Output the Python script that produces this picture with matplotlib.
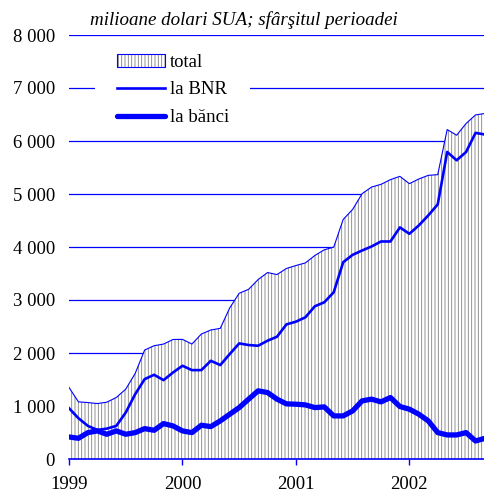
import numpy as np
import matplotlib
matplotlib.use('Agg')
import matplotlib.pyplot as plt
from matplotlib.patches import Patch, Rectangle
from matplotlib.lines import Line2D

FONT = 'Liberation Serif'
FS = 13.5
BLUE = '#0000ff'

# end of month, Jan 1999 .. Sep 2002 (million USD)
total = [1350, 1078, 1065, 1046, 1072, 1160, 1318, 1614, 2056, 2137, 2169, 2255,
         2257, 2169, 2358, 2434, 2465, 2850, 3127, 3202, 3385, 3518, 3480, 3595,
         3650, 3700, 3839, 3947, 3997, 4520, 4709, 5006, 5131, 5182, 5271, 5333,
         5195, 5283, 5352, 5365, 6216, 6109, 6330, 6492, 6519]
bnr = [958, 769, 624, 548, 573, 624, 876, 1223, 1507, 1589, 1488, 1632,
       1759, 1677, 1677, 1853, 1772, 1980, 2181, 2150, 2137, 2232, 2307, 2540,
       2591, 2673, 2881, 2957, 3146, 3713, 3852, 3934, 4010, 4104, 4104, 4370,
       4249, 4407, 4596, 4804, 5793, 5636, 5793, 6153, 6122]
banci = [416, 391, 498, 530, 467, 530, 467, 498, 573, 542, 668, 624,
         530, 498, 637, 611, 719, 845, 970, 1129, 1286, 1254, 1129, 1040,
         1034, 1021, 970, 983, 813, 813, 908, 1097, 1129, 1078, 1160, 990,
         940, 845, 719, 498, 454, 454, 498, 340, 391]
years = ['1999', '2000', '2001', '2002']
yticks = [0, 1000, 2000, 3000, 4000, 5000, 6000, 7000, 8000]

months = np.arange(len(total))

plt.rcParams['hatch.linewidth'] = 0.6
plt.rcParams['hatch.color'] = '#808080'

fig = plt.figure(figsize=(4.85, 4.9), dpi=100)
ax = fig.add_axes([69/485, 31/490, 416/485, 424/490])

for v in yticks[1:]:
    ax.axhline(v, color=BLUE, lw=0.9, zorder=1)

ax.fill_between(months, 0, total, facecolor='white', edgecolor='#808080', hatch='|||||', lw=0, zorder=2)
ax.plot(months, total, color=BLUE, lw=0.8, zorder=3)
ax.plot(months, bnr, color=BLUE, lw=1.9, zorder=4, solid_joinstyle='round')
ax.plot(months, banci, color=BLUE, lw=3.8, zorder=5, solid_joinstyle='round', solid_capstyle='round')

ax.set_xlim(0, len(total) - 1)
ax.set_ylim(0, 8000)
ax.set_yticks(yticks)
ax.set_yticklabels([f'{v:,}'.replace(',', ' ') for v in yticks], fontfamily=FONT, fontsize=FS)
ax.set_xticks(np.arange(len(years)) * 12)
ax.set_xticklabels(years, fontfamily=FONT, fontsize=FS)
ax.tick_params(axis='y', length=0, pad=10)
ax.tick_params(axis='x', length=4, width=1, color=BLUE, pad=8, direction='out')
for s in ['top', 'right', 'left']:
    ax.spines[s].set_visible(False)
ax.spines['bottom'].set_color(BLUE)
ax.spines['bottom'].set_linewidth(1.2)
ax.spines['bottom'].set_zorder(6)

# white box behind the legend
ax.add_patch(Rectangle((26/416, (459-98)/424), 155/416, 20/424, transform=ax.transAxes,
                       facecolor='white', edgecolor='none', zorder=1.5))

h_total = (Patch(facecolor='white', edgecolor='#808080', hatch='|||||', lw=0),
           Patch(facecolor='none', edgecolor=BLUE, lw=0.8))
h_bnr = Line2D([], [], color=BLUE, lw=1.9)
h_banci = Line2D([], [], color=BLUE, lw=3.8, solid_capstyle='round')
fig.legend([h_total, h_bnr, h_banci], ['total', 'la BNR', 'la bănci'],
           loc='upper left', bbox_to_anchor=(117/485, 1 - 54/490), frameon=False,
           borderpad=0, borderaxespad=0, handlelength=2.55, handleheight=0.65,
           handletextpad=0.27, labelspacing=0.56,
           prop={'family': FONT, 'size': FS})

fig.text(90/485, 1 - 20/490, 'milioane dolari SUA; sfârşitul perioadei',
         fontfamily=FONT, fontstyle='italic', fontsize=13.7, ha='left', va='center')

fig.savefig('out.png', dpi=100)
